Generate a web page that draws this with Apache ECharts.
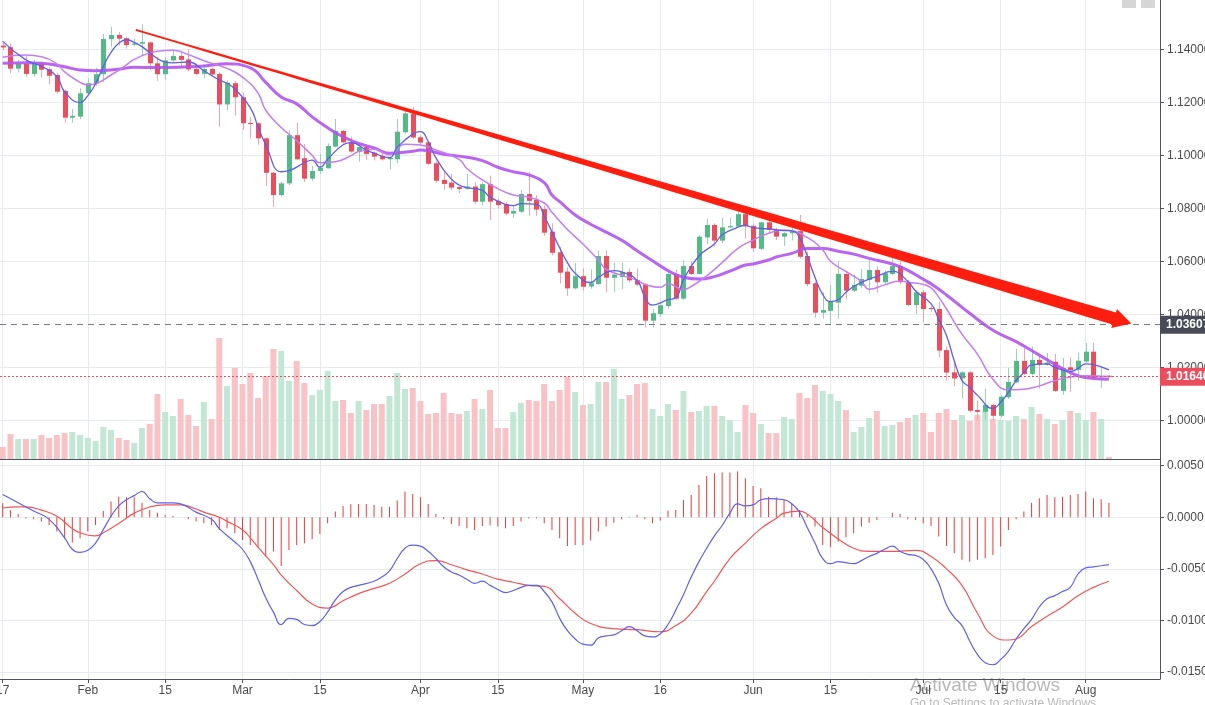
<!DOCTYPE html>
<html>
<head>
<meta charset="utf-8">
<script src="https://cdn.jsdelivr.net/npm/echarts@6/dist/echarts.min.js"></script>
<style>
html,body{margin:0;padding:0;background:#ffffff;}
#chart{width:1205px;height:705px;}
</style>
</head>
<body>
<div id="chart"></div>
<script>
// ---- DATA ----
// trading-day index 0 = Jan 17
const xTickIdx = [0, 11, 21, 31, 41, 54, 64, 75, 85, 97, 107, 119, 129, 140];
const xTickLabels = ['17', 'Feb', '15', 'Mar', '15', 'Apr', '15', 'May', '16', 'Jun', '15', 'Jul', '15', 'Aug'];
const priceTicks = [1.00, 1.02, 1.04, 1.06, 1.08, 1.10, 1.12, 1.14];
const macdTicks = [-0.015, -0.010, -0.005, 0, 0.005];

// [open, close, low, high]
const candles = [
[1.1414,1.1407,1.1396,1.1428],[1.1408,1.1327,1.1309,1.1423],[1.1327,1.1346,1.1313,1.1360],[1.1346,1.1307,1.1296,1.1375],
[1.1307,1.1346,1.1296,1.1360],[1.1346,1.1323,1.1294,1.1353],[1.1325,1.1300,1.1268,1.1332],[1.1303,1.1240,1.1233,1.1310],
[1.1243,1.1142,1.1123,1.1248],[1.1142,1.1149,1.1123,1.1174],[1.1146,1.1234,1.1136,1.1253],[1.1234,1.1272,1.1225,1.1290],
[1.1272,1.1306,1.1262,1.1330],[1.1306,1.1439,1.1278,1.1458],[1.1438,1.1454,1.1410,1.1485],[1.1454,1.1440,1.1415,1.1465],
[1.1442,1.1416,1.1403,1.1447],[1.1417,1.1422,1.1412,1.1440],[1.1421,1.1427,1.1378,1.1495],[1.1426,1.1347,1.1322,1.1430],
[1.1347,1.1306,1.1281,1.1371],[1.1306,1.1358,1.1285,1.1370],[1.1358,1.1375,1.1350,1.1395],[1.1375,1.1360,1.1330,1.1395],
[1.1362,1.1324,1.1317,1.1400],[1.1326,1.1307,1.1302,1.1342],[1.1307,1.1326,1.1290,1.1342],[1.1326,1.1305,1.1302,1.1330],
[1.1307,1.1192,1.1108,1.1315],[1.1192,1.1274,1.1170,1.1284],[1.1272,1.1219,1.1150,1.1280],[1.1219,1.1121,1.1096,1.1237],
[1.1122,1.1118,1.1063,1.1144],[1.1121,1.1064,1.1040,1.1125],[1.1064,1.0934,1.0884,1.1068],[1.0934,1.0850,1.0806,1.0937],
[1.0850,1.0894,1.0845,1.0900],[1.0894,1.1076,1.0888,1.1095],[1.1076,1.0985,1.0982,1.1123],[1.0989,1.0912,1.0899,1.1043],
[1.0912,1.0941,1.0903,1.0960],[1.0941,1.0953,1.0930,1.1004],[1.0951,1.1035,1.0950,1.1045],[1.1033,1.1092,1.1030,1.1137],
[1.1092,1.1049,1.1044,1.1096],[1.1049,1.1014,1.1010,1.1070],[1.1014,1.1031,1.0976,1.1045],[1.1031,1.1005,1.0982,1.1039],
[1.1010,1.0995,1.0981,1.1015],[1.0998,1.0985,1.0980,1.1010],[1.0985,1.0990,1.0948,1.0996],[1.0985,1.1089,1.0970,1.1137],
[1.1087,1.1158,1.1080,1.1171],[1.1158,1.1067,1.1062,1.1183],[1.1068,1.1048,1.1040,1.1076],[1.1049,1.0968,1.0962,1.1052],
[1.0970,1.0904,1.0896,1.0978],[1.0907,1.0892,1.0870,1.0935],[1.0897,1.0878,1.0869,1.0930],[1.0880,1.0873,1.0857,1.0885],
[1.0874,1.0882,1.0870,1.0930],[1.0882,1.0825,1.0815,1.0898],[1.0825,1.0891,1.0811,1.0898],[1.0891,1.0825,1.0756,1.0923],
[1.0828,1.0812,1.0800,1.0836],[1.0816,1.0780,1.0774,1.0824],[1.0780,1.0790,1.0764,1.0810],[1.0787,1.0854,1.0783,1.0870],
[1.0854,1.0828,1.0772,1.0936],[1.0832,1.0795,1.0772,1.0850],[1.0797,1.0708,1.0696,1.0810],[1.0712,1.0632,1.0622,1.0743],
[1.0634,1.0557,1.0517,1.0655],[1.0561,1.0498,1.0470,1.0577],[1.0498,1.0544,1.0494,1.0593],[1.0544,1.0504,1.0490,1.0573],
[1.0505,1.0517,1.0497,1.0570],[1.0514,1.0620,1.0511,1.0641],[1.0620,1.0538,1.0483,1.0641],[1.0538,1.0550,1.0483,1.0594],
[1.0541,1.0559,1.0496,1.0595],[1.0560,1.0528,1.0520,1.0573],[1.0529,1.0512,1.0505,1.0573],[1.0513,1.0376,1.0350,1.0518],
[1.0376,1.0404,1.0350,1.0420],[1.0401,1.0434,1.0390,1.0442],[1.0431,1.0552,1.0420,1.0563],[1.0552,1.0459,1.0455,1.0570],
[1.0459,1.0582,1.0455,1.0604],[1.0582,1.0552,1.0548,1.0600],[1.0552,1.0693,1.0552,1.0700],[1.0690,1.0737,1.0665,1.0761],
[1.0737,1.0678,1.0655,1.0743],[1.0678,1.0728,1.0668,1.0765],[1.0728,1.0733,1.0725,1.0765],[1.0731,1.0778,1.0728,1.0787],
[1.0778,1.0733,1.0686,1.0790],[1.0734,1.0649,1.0635,1.0740],[1.0647,1.0747,1.0642,1.0750],[1.0747,1.0718,1.0705,1.0781],
[1.0718,1.0693,1.0680,1.0727],[1.0693,1.0706,1.0658,1.0710],[1.0706,1.0714,1.0679,1.0739],[1.0714,1.0617,1.0611,1.0775],
[1.0620,1.0514,1.0505,1.0636],[1.0517,1.0406,1.0387,1.0525],[1.0406,1.0416,1.0384,1.0483],[1.0413,1.0448,1.0362,1.0511],
[1.0444,1.0552,1.0383,1.0602],[1.0552,1.0489,1.0457,1.0560],[1.0489,1.0511,1.0485,1.0550],[1.0508,1.0533,1.0500,1.0571],
[1.0530,1.0567,1.0478,1.0606],[1.0567,1.0521,1.0482,1.0580],[1.0521,1.0555,1.0512,1.0566],[1.0552,1.0582,1.0548,1.0615],
[1.0582,1.0521,1.0512,1.0602],[1.0521,1.0435,1.0432,1.0530],[1.0435,1.0483,1.0402,1.0492],[1.0483,1.0420,1.0370,1.0492],
[1.0424,1.0420,1.0410,1.0432],[1.0420,1.0263,1.0238,1.0447],[1.0265,1.0180,1.0150,1.0278],[1.0181,1.0158,1.0129,1.0221],
[1.0158,1.0181,1.0083,1.0185],[1.0181,1.0036,1.0030,1.0185],[1.0039,1.0032,0.9999,1.0075],[1.0032,1.0058,1.0000,1.0120],
[1.0058,1.0017,1.0001,1.0062],[1.0017,1.0089,1.0010,1.0095],[1.0087,1.0145,1.0080,1.0197],[1.0143,1.0224,1.0140,1.0269],
[1.0224,1.0175,1.0170,1.0273],[1.0175,1.0228,1.0170,1.0278],[1.0228,1.0209,1.0120,1.0245],[1.0209,1.0218,1.0206,1.0255],
[1.0221,1.0111,1.0107,1.0250],[1.0111,1.0196,1.0096,1.0235],[1.0200,1.0190,1.0108,1.0237],[1.0190,1.0225,1.0150,1.0255],
[1.0222,1.0259,1.0218,1.0292],[1.0259,1.0161,1.0157,1.0293],[1.0162,1.0166,1.0123,1.0202],[1.0168,1.01646,1.0160,1.0172]
];

// volume (relative units)
const volumes = [
12,25,20,20,20,24,21,24,26,27,24,21,18,32,29,21,19,16,31,35,
65,47,43,60,44,33,57,40,121,73,91,75,86,61,83,110,108,78,98,76,
64,69,88,58,59,46,58,49,55,55,63,86,70,71,58,45,46,66,46,45,
48,60,50,69,31,31,47,56,59,58,75,58,69,82,67,54,55,77,77,90,
60,64,75,76,50,43,55,49,68,47,48,53,53,43,39,27,54,46,35,26,
26,42,40,66,61,74,68,65,58,49,27,32,41,48,33,34,37,41,44,46,
27,46,50,39,44,38,44,48,40,39,38,43,40,52,45,40,35,39,48,46,
39,47,40,2
];

// moving averages [dayIndex, price]
const maFast = [[0,1.1430],[3,1.1360],[5,1.1336],[7,1.1297],[8,1.1240],[10,1.1199],[11,1.1225],[12,1.1270],[13,1.1335],[14,1.1388],[15,1.1423],[16,1.1436],[17,1.1426],[18,1.1410],[20,1.1365],[21,1.1352],[22,1.1349],[24,1.1352],[26,1.1319],[28,1.1284],[29,1.1272],[30,1.1250],[32,1.1180],[33,1.1108],[34,1.1040],[36,1.0938],[37,1.0942],[39,1.0972],[40,1.0982],[41,1.0955],[42,1.0985],[44,1.1040],[45,1.1048],[47,1.1020],[48,1.1008],[50,1.0991],[51,1.1030],[53,1.1080],[54,1.1089],[55,1.1052],[56,1.0990],[58,1.0910],[59,1.0888],[60,1.0878],[62,1.0868],[63,1.0842],[65,1.0815],[66,1.0810],[67,1.0818],[69,1.0815],[70,1.0770],[72,1.0650],[73,1.0595],[74,1.0555],[76,1.0520],[77,1.0540],[79,1.0565],[80,1.0560],[82,1.0528],[83,1.0467],[84,1.0435],[86,1.0455],[87,1.0462],[88,1.0530],[90,1.0620],[92,1.0665],[93,1.0700],[95,1.0728],[96,1.0735],[97,1.0727],[99,1.0722],[101,1.0716],[102,1.0715],[103,1.0690],[104,1.0620],[105,1.0540],[106,1.0475],[107,1.0448],[108,1.0455],[109,1.0483],[110,1.0505],[112,1.0533],[113,1.0543],[115,1.0562],[117,1.0525],[118,1.0488],[120,1.0440],[121,1.0380],[122,1.0320],[123,1.0225],[124,1.0150],[125,1.0125],[126,1.0095],[128,1.0045],[129,1.0068],[130,1.0105],[131,1.0150],[132,1.0180],[133,1.0209],[135,1.0213],[136,1.0200],[138,1.0185],[139,1.0196],[140,1.0213],[141,1.0210],[143,1.0190]];
const maMid = [[0,1.1370],[3,1.1378],[5,1.1372],[7,1.1345],[8,1.1315],[10,1.1275],[11,1.1266],[12,1.1270],[14,1.1303],[16,1.1341],[17,1.1362],[20,1.1393],[22,1.1396],[24,1.1380],[26,1.1357],[29,1.1328],[31,1.1295],[33,1.1235],[34,1.1170],[36,1.1105],[38,1.1055],[40,1.1000],[41,1.0972],[43,1.0976],[45,1.0998],[46,1.1014],[48,1.1023],[50,1.1002],[52,1.1042],[54,1.1039],[56,1.1020],[59,1.0985],[60,1.0950],[62,1.0907],[64,1.0874],[66,1.0850],[68,1.0842],[70,1.0820],[71,1.0785],[72,1.0752],[73,1.0720],[75,1.0665],[77,1.0605],[78,1.0570],[80,1.0548],[82,1.0528],[83,1.0513],[85,1.0502],[86,1.0515],[88,1.0494],[89,1.0505],[91,1.0545],[93,1.0595],[95,1.0648],[97,1.0680],[99,1.0706],[101,1.0718],[102,1.0715],[104,1.0690],[106,1.0643],[107,1.0600],[109,1.0562],[111,1.0524],[112,1.0495],[114,1.0511],[116,1.0526],[117,1.0521],[119,1.0513],[120,1.0500],[121,1.0465],[122,1.0420],[124,1.0325],[126,1.0250],[128,1.0155],[130,1.0115],[132,1.0117],[134,1.0130],[136,1.0150],[138,1.0163],[140,1.0168],[143,1.0165]];
const maSlow = [[0,1.1347],[3,1.1349],[5,1.1347],[8,1.1334],[10,1.1322],[12,1.1319],[15,1.1325],[17,1.1332],[20,1.1331],[24,1.1334],[26,1.1337],[29,1.1345],[32,1.1330],[34,1.1275],[36,1.1220],[38,1.1194],[40,1.1145],[42,1.1104],[44,1.1070],[46,1.1045],[48,1.1028],[50,1.1008],[53,1.1015],[54,1.1020],[57,1.1004],[60,1.0993],[62,1.0980],[64,1.0955],[66,1.0938],[68,1.0926],[70,1.0897],[71,1.0850],[72,1.0825],[74,1.0775],[76,1.0740],[78,1.0710],[80,1.0680],[82,1.0640],[84,1.0602],[86,1.0565],[88,1.0540],[90,1.0533],[92,1.0542],[94,1.0563],[96,1.0586],[97,1.0590],[99,1.0605],[100,1.0616],[102,1.0630],[104,1.0648],[106,1.0648],[108,1.0638],[110,1.0627],[112,1.0611],[115,1.0590],[117,1.0566],[119,1.0532],[120,1.0515],[122,1.0473],[125,1.0404],[128,1.0340],[131,1.0297],[134,1.0246],[137,1.0195],[139,1.0168],[141,1.0158],[143,1.0155]];

// MACD panel [dayIndex, value]
const macdLine = [[0,0.0022],[2,0.0014],[4,0.0006],[6,-0.0002],[8,-0.0020],[9,-0.0031],[10,-0.0034],[11,-0.0032],[12,-0.0025],[13,-0.0012],[14,0.0001],[15,0.0011],[16,0.0017],[17,0.0021],[18,0.0025],[19,0.0018],[20,0.0014],[22,0.0014],[23,0.0013],[25,0.0005],[27,-0.0002],[28,-0.0011],[30,-0.0024],[31,-0.0031],[32,-0.0043],[33,-0.0060],[34,-0.0078],[35,-0.0092],[36,-0.0104],[37,-0.0098],[38,-0.0099],[39,-0.0104],[40,-0.0105],[41,-0.0101],[42,-0.0092],[43,-0.0080],[44,-0.0072],[45,-0.0068],[46,-0.0066],[48,-0.0062],[49,-0.0058],[50,-0.0052],[51,-0.0040],[52,-0.0030],[53,-0.0027],[54,-0.0028],[55,-0.0033],[56,-0.0040],[57,-0.0048],[58,-0.0053],[59,-0.0056],[60,-0.0060],[61,-0.0064],[62,-0.0062],[63,-0.0066],[64,-0.0070],[65,-0.0073],[66,-0.0071],[67,-0.0068],[68,-0.0066],[69,-0.0066],[70,-0.0072],[71,-0.0082],[72,-0.0098],[73,-0.0110],[74,-0.0118],[75,-0.0123],[76,-0.0124],[77,-0.0117],[78,-0.0115],[79,-0.0114],[80,-0.0110],[81,-0.0106],[82,-0.0110],[83,-0.0115],[84,-0.0116],[85,-0.0113],[86,-0.0104],[87,-0.0090],[88,-0.0075],[89,-0.0058],[90,-0.0043],[91,-0.0030],[92,-0.0018],[93,-0.0008],[94,0.0004],[95,0.0013],[96,0.0011],[97,0.0012],[98,0.0017],[99,0.0018],[101,0.0017],[102,0.0013],[103,0.0005],[104,-0.0010],[105,-0.0025],[106,-0.0040],[107,-0.0045],[108,-0.0043],[109,-0.0044],[110,-0.0045],[111,-0.0042],[112,-0.0038],[113,-0.0035],[114,-0.0031],[115,-0.0028],[116,-0.0033],[117,-0.0036],[118,-0.0037],[119,-0.0041],[120,-0.0050],[121,-0.0064],[122,-0.0085],[123,-0.0097],[124,-0.0105],[125,-0.0120],[126,-0.0133],[127,-0.0141],[128,-0.0143],[129,-0.0138],[130,-0.0130],[131,-0.0118],[132,-0.0108],[133,-0.0099],[134,-0.0087],[135,-0.0079],[136,-0.0076],[137,-0.0072],[138,-0.0068],[139,-0.0055],[140,-0.0049],[141,-0.0048],[142,-0.0047],[143,-0.0046]];
const signalLine = [[0,0.0009],[2,0.0010],[3,0.0010],[5,0.0007],[7,0.0001],[9,-0.0011],[10,-0.0015],[12,-0.0018],[13,-0.0015],[15,-0.0006],[17,0.0004],[19,0.0010],[21,0.0012],[23,0.0012],[25,0.0008],[26,0.0005],[28,0.0000],[29,-0.0004],[31,-0.0012],[32,-0.0020],[33,-0.0029],[35,-0.0046],[36,-0.0056],[38,-0.0071],[40,-0.0084],[42,-0.0088],[44,-0.0081],[46,-0.0074],[48,-0.0069],[50,-0.0064],[52,-0.0055],[54,-0.0045],[56,-0.0042],[58,-0.0046],[60,-0.0051],[62,-0.0055],[64,-0.0060],[66,-0.0063],[68,-0.0066],[70,-0.0067],[72,-0.0079],[74,-0.0093],[76,-0.0103],[79,-0.0108],[82,-0.0109],[85,-0.0111],[87,-0.0105],[89,-0.0093],[91,-0.0072],[92,-0.0062],[94,-0.0040],[96,-0.0025],[98,-0.0011],[100,-0.0001],[101,0.0004],[103,0.0006],[104,0.0003],[105,-0.0003],[106,-0.0010],[108,-0.0021],[110,-0.0030],[112,-0.0033],[115,-0.0033],[118,-0.0032],[120,-0.0038],[122,-0.0050],[124,-0.0066],[126,-0.0093],[128,-0.0115],[130,-0.0119],[131,-0.0118],[133,-0.0106],[135,-0.0096],[137,-0.0087],[139,-0.0076],[141,-0.0068],[143,-0.0062]];
const macdHist = [
0.00136,0.0007,0.00032,-0.00013,-0.0002,-0.00042,-0.00074,-0.00139,-0.00207,-0.00245,
-0.00203,-0.00139,-0.00074,0.00061,0.00152,0.002,0.00194,0.00194,0.00142,0.00071,
0.00045,0.00023,0.00013,0,-0.0002,-0.00042,-0.00058,-0.00074,-0.00123,-0.00107,
-0.00155,-0.0022,-0.00268,-0.00291,-0.00381,-0.00333,-0.00472,-0.00317,-0.00268,-0.00252,
-0.00213,-0.00162,-0.00058,0.00055,0.0011,0.00126,0.00129,0.00129,0.0012,0.00103,
0.00103,0.00162,0.00249,0.00226,0.00194,0.00129,0.00032,-0.0002,-0.00065,-0.00084,
-0.00107,-0.00123,-0.00084,-0.00078,-0.0009,-0.00107,-0.00084,-0.00042,-0.00013,-0.0001,
-0.00058,-0.00123,-0.00203,-0.00278,-0.00268,-0.00268,-0.00226,-0.00139,-0.0009,-0.00052,
-0.0002,0.00006,0.00023,-0.0002,-0.00058,-0.00032,0.00065,0.00071,0.00168,0.00216,
0.00313,0.004,0.00426,0.00433,0.00433,0.00443,0.00378,0.00304,0.00281,0.002,
0.00194,0.00174,0.00136,0.00071,0.00023,-0.0009,-0.00268,-0.00291,-0.00236,-0.00194,
-0.00155,-0.0009,-0.00052,-0.00026,0,0.00045,0.00032,-0.0002,-0.00026,-0.00058,
-0.00084,-0.00187,-0.00278,-0.00349,-0.00413,-0.0043,-0.00413,-0.00397,-0.00365,-0.00284,
-0.00123,-0.0002,0.00055,0.00142,0.00184,0.00216,0.00194,0.002,0.00216,0.00226,
0.00249,0.00184,0.00174,0.00142
];

const lastPrice = 1.01646;
const levelPrice = 1.03607;
const trendFrom = [17.2, 1.1473];
const trendTo = [145.9, 1.0365];

// ---- STYLE ----
const UP = '#53b987', DOWN = '#eb4d5c';
const WICK_UP = '#96d4b4', WICK_DOWN = '#f4a3aa';
const VOL_UP = '#c3e7d5', VOL_DOWN = '#f8c2c7';
const GRID_C = '#e4ecf2', AXIS_C = '#50535e', TXT_C = '#4a4a4a';
const FONT = '"Liberation Sans", Arial, sans-serif';
const X_MIN = -0.35, X_MAX = 149.6;

const chart = echarts.init(document.getElementById('chart'), null, {renderer: 'canvas'});

function candleItem(params, api) {
  const x = api.value(0), o = api.value(1), c = api.value(2), l = api.value(3), h = api.value(4);
  const pO = api.coord([x, o]), pC = api.coord([x, c]), pL = api.coord([x, l]), pH = api.coord([x, h]);
  const up = c >= o;
  const band = api.size([1, 0])[0];
  const bw = Math.max(1, Math.round(band * 0.65));
  const cx = Math.round(pO[0]) + 0.5;
  const top = Math.min(pO[1], pC[1]);
  const bot = Math.max(pO[1], pC[1]);
  return {
    type: 'group',
    children: [
      {type: 'line', shape: {x1: cx, y1: pH[1], x2: cx, y2: pL[1]},
       style: {stroke: up ? WICK_UP : WICK_DOWN, lineWidth: 1}},
      {type: 'rect', shape: {x: cx - bw / 2, y: top, width: bw, height: Math.max(bot - top, 1)},
       style: {fill: up ? UP : DOWN}}
    ]
  };
}

function trendItem(params, api) {
  const a = api.coord([api.value(0), api.value(1)]);
  const b = api.coord([api.value(2), api.value(3)]);
  const dx = b[0] - a[0], dy = b[1] - a[1];
  const L = Math.hypot(dx, dy);
  const ux = dx / L, uy = dy / L, nx = -uy, ny = ux;
  const headLen = 18, headHalf = 10;
  const shaftLen = L - headLen + 2;
  const N = 40, topPts = [], botPts = [];
  for (let k = 0; k <= N; k++) {
    const t = k / N;
    const w = 1.8 + 10.7 * Math.pow(t, 1.3);
    const px = a[0] + ux * t * shaftLen, py = a[1] + uy * t * shaftLen;
    topPts.push([px + nx * w / 2, py + ny * w / 2]);
    botPts.push([px - nx * w / 2, py - ny * w / 2]);
  }
  const shaft = topPts.concat(botPts.reverse());
  const cx = a[0] + ux * (L - headLen), cy = a[1] + uy * (L - headLen);
  const head = [[cx + nx * headHalf, cy + ny * headHalf], [b[0], b[1]], [cx - nx * headHalf, cy - ny * headHalf]];
  return {
    type: 'group',
    children: [
      {type: 'polygon', shape: {points: shaft}, style: {fill: '#fe1e10'}},
      {type: 'polygon', shape: {points: head}, style: {fill: '#fe1e10'}}
    ]
  };
}

const priceFmt = v => Number(v).toFixed(5);

const option = {
  animation: false,
  backgroundColor: '#ffffff',
  textStyle: {fontFamily: FONT},
  grid: [
    {left: 0, top: 0, width: 1160, height: 459, containLabel: false, outerBoundsMode: 'none'},
    {left: 0, top: 459, width: 1160, height: 220, containLabel: false, outerBoundsMode: 'none'}
  ],
  xAxis: [
    {
      type: 'value', gridIndex: 0, min: X_MIN, max: X_MAX,
      axisLine: {show: true, onZero: false, lineStyle: {color: AXIS_C, width: 1}},
      axisTick: {show: false, customValues: xTickIdx},
      axisLabel: {show: false, customValues: xTickIdx},
      splitLine: {show: true, lineStyle: {color: GRID_C, width: 1}}
    },
    {
      type: 'value', gridIndex: 1, min: X_MIN, max: X_MAX,
      axisLine: {show: true, onZero: false, lineStyle: {color: AXIS_C, width: 1}},
      axisTick: {show: true, length: 4, customValues: xTickIdx, lineStyle: {color: AXIS_C}},
      axisLabel: {
        show: true, customValues: xTickIdx, color: TXT_C, fontSize: 12, margin: 6, fontFamily: FONT,
        hideOverlap: false,
        formatter: v => { const k = xTickIdx.indexOf(Math.round(v)); return k >= 0 ? xTickLabels[k] : ''; }
      },
      splitLine: {show: true, lineStyle: {color: GRID_C, width: 1}}
    }
  ],
  yAxis: [
    {
      type: 'value', gridIndex: 0, position: 'right', min: 0.9854, max: 1.1586,
      axisLine: {show: true, onZero: false, lineStyle: {color: AXIS_C, width: 1}},
      axisTick: {show: true, length: 4, customValues: priceTicks, lineStyle: {color: AXIS_C}},
      axisLabel: {show: true, customValues: priceTicks, color: TXT_C, fontSize: 12, margin: 7, fontFamily: FONT, formatter: priceFmt},
      splitLine: {show: true, lineStyle: {color: GRID_C, width: 1}}
    },
    {
      type: 'value', gridIndex: 0, min: 0, max: 459, show: false,
      axisLine: {onZero: false},
      splitLine: {show: false}
    },
    {
      type: 'value', gridIndex: 1, position: 'right', min: -0.01568, max: 0.00565,
      axisLine: {show: true, onZero: false, lineStyle: {color: AXIS_C, width: 1}},
      axisTick: {show: true, length: 4, customValues: macdTicks, lineStyle: {color: AXIS_C}},
      axisLabel: {show: true, customValues: macdTicks, color: TXT_C, fontSize: 12, margin: 7, fontFamily: FONT,
        formatter: v => Number(v).toFixed(4)},
      splitLine: {show: true, lineStyle: {color: GRID_C, width: 1}}
    }
  ],
  series: [
    {
      name: 'Volume', type: 'bar', xAxisIndex: 0, yAxisIndex: 1, barWidth: 6, z: 1, silent: true,
      data: volumes.map((v, i) => ({
        value: [i, v],
        itemStyle: {color: candles[i][1] >= candles[i][0] ? VOL_UP : VOL_DOWN}
      }))
    },
    {
      name: 'Price', type: 'custom', xAxisIndex: 0, yAxisIndex: 0, z: 3, silent: true,
      renderItem: candleItem,
      encode: {x: 0, y: [1, 2, 3, 4]},
      data: candles.map((c, i) => [i, c[0], c[1], c[2], c[3]])
    },
    {
      name: 'MA slow', type: 'line', xAxisIndex: 0, yAxisIndex: 0, z: 4, silent: true,
      showSymbol: false, smooth: true, clip: false,
      lineStyle: {color: '#b354f0', width: 3, opacity: 0.9},
      data: maSlow,
      markLine: {
        silent: true, symbol: ['none', 'none'], animation: false, precision: 5,
        data: [
          {
            yAxis: levelPrice,
            lineStyle: {color: '#787b86', width: 1, type: [6, 5]},
            label: {show: true, position: 'end', distance: 0, formatter: () => levelPrice.toFixed(5),
              backgroundColor: '#474b57', color: '#ffffff', fontSize: 12, fontFamily: FONT, fontWeight: 'bold',
              padding: [3, 10, 2, 6], lineHeight: 13, align: 'left'}
          },
          {
            yAxis: lastPrice,
            lineStyle: {color: '#eb4d5c', width: 1, type: [2, 2]},
            label: {show: true, position: 'end', distance: 0, formatter: () => lastPrice.toFixed(5),
              backgroundColor: '#eb4d5c', color: '#ffffff', fontSize: 12, fontFamily: FONT, fontWeight: 'bold',
              padding: [3, 10, 2, 6], lineHeight: 13, align: 'left'}
          }
        ]
      }
    },
    {
      name: 'MA mid', type: 'line', xAxisIndex: 0, yAxisIndex: 0, z: 4, silent: true,
      showSymbol: false, smooth: true,
      lineStyle: {color: '#c57cf6', width: 1.5},
      data: maMid
    },
    {
      name: 'MA fast', type: 'line', xAxisIndex: 0, yAxisIndex: 0, z: 5, silent: true,
      showSymbol: false, smooth: true,
      lineStyle: {color: '#5e5ef2', width: 1.3},
      data: maFast
    },
    {
      name: 'Trend', type: 'custom', xAxisIndex: 0, yAxisIndex: 0, z: 10, silent: true, clip: false,
      renderItem: trendItem,
      encode: {x: [0, 2], y: [1, 3]},
      data: [[trendFrom[0], trendFrom[1], trendTo[0], trendTo[1]]]
    },
    {
      name: 'Histogram', type: 'bar', xAxisIndex: 1, yAxisIndex: 2, barWidth: 1, z: 2, silent: true,
      itemStyle: {color: '#f03a3a'},
      data: macdHist.map((v, i) => [i, v])
    },
    {
      name: 'MACD', type: 'line', xAxisIndex: 1, yAxisIndex: 2, z: 4, silent: true,
      showSymbol: false, smooth: true,
      lineStyle: {color: '#5f5ff2', width: 1.2},
      data: macdLine
    },
    {
      name: 'Signal', type: 'line', xAxisIndex: 1, yAxisIndex: 2, z: 3, silent: true,
      showSymbol: false, smooth: true,
      lineStyle: {color: '#f25555', width: 1.2},
      data: signalLine
    }
  ],
  graphic: [
    {type: 'rect', left: 1122, top: -3, shape: {width: 14, height: 11, r: 1}, style: {fill: '#d6d6d6'}, silent: true},
    {type: 'rect', left: 1141, top: -3, shape: {width: 14, height: 11, r: 1}, style: {fill: '#d6d6d6'}, silent: true},
    {type: 'text', left: 910, top: 676, silent: true,
      style: {text: 'Activate Windows', fill: 'rgba(160,160,160,0.75)', font: '19px "Liberation Sans", Arial, sans-serif'}},
    {type: 'text', left: 910, top: 698, silent: true,
      style: {text: 'Go to Settings to activate Windows.', fill: 'rgba(160,160,160,0.75)', font: '12px "Liberation Sans", Arial, sans-serif'}}
  ]
};

chart.setOption(option);
</script>
</body>
</html>
